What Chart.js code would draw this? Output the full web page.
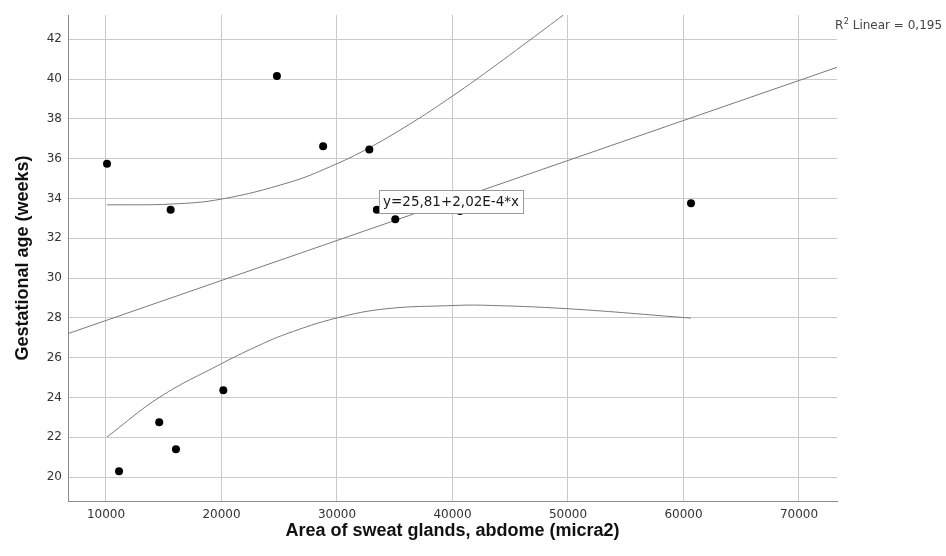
<!DOCTYPE html>
<html>
<head>
<meta charset="utf-8">
<script src="https://cdn.jsdelivr.net/npm/chart.js@4"></script>
<style>
  html, body { margin: 0; padding: 0; background: #fff; }
  canvas { display: block; }
</style>
</head>
<body>
<canvas id="chart" width="946" height="556"></canvas>
<script>
// Observed cases: sweat gland area vs gestational age
const areaValues = [10090, 15600, 24800, 28800, 32800, 33450, 35050, 40650, 60650, 20160, 14610, 16060, 11130];
const ageValues = [35.74, 33.43, 40.16, 36.62, 36.46, 33.43, 32.96, 33.37, 33.76, 24.37, 22.76, 21.40, 20.30];

// Linear fit, read where it meets the plot edges
const fitX = [6713, 73290];
const fitY = [27.21, 40.59];

// 95% CI band
const upperX = [10090, 15600, 20000, 25930, 29420, 32800, 36890, 40000, 42100, 46700, 49600];
const upperY = [33.68, 33.72, 33.97, 34.82, 35.6, 36.55, 37.95, 39.15, 40.0, 41.96, 43.22];
const lowerX = [10090, 14680, 20000, 22800, 25630, 30000, 34270, 40000, 42500, 50000, 60650];
const lowerY = [22.02, 24.03, 25.7, 26.5, 27.2, 28.0, 28.46, 28.62, 28.64, 28.46, 27.99];

const xTicks = [10000, 20000, 30000, 40000, 50000, 60000, 70000];
const yTicks = [20, 22, 24, 26, 28, 30, 32, 34, 36, 38, 40, 42];
const xRange = [6713, 73290];
const yRange = [18.8, 43.22];

const equationText = "y=25,81+2,02E-4*x";
const equationAt = [33620, 34.45]; // top-left corner of the box, data units
const r2Text = "R";
const r2Sup = "2";
const r2Rest = " Linear = 0,195";

function toXY(xs, ys) {
  return xs.map((x, i) => ({ x, y: ys[i] }));
}

const lineStyle = {
  showLine: true,
  pointRadius: 0,
  pointHoverRadius: 0,
  borderColor: "#7a7a7a",
  borderWidth: 1,
  fill: false,
};

// Labels: equation box and R² note
const labelsPlugin = {
  id: "labels",
  afterDatasetsDraw(chart) {
    const { ctx, scales, chartArea } = chart;
    ctx.save();
    ctx.font = "13.5px 'DejaVu Sans'";
    const w = Math.round(ctx.measureText(equationText).width + 8);
    const left = Math.round(scales.x.getPixelForValue(equationAt[0]));
    const top = Math.round(scales.y.getPixelForValue(equationAt[1]));
    ctx.fillStyle = "#fff";
    ctx.fillRect(left, top, w, 23);
    ctx.strokeStyle = "#9a9a9a";
    ctx.lineWidth = 1;
    ctx.strokeRect(left + 0.5, top + 0.5, w, 23);
    ctx.fillStyle = "#1a1a1a";
    ctx.textBaseline = "middle";
    ctx.fillText(equationText, left + 4, top + 12);

    // R² Linear
    let x = chartArea.right - 2;
    const base = 29;
    ctx.textBaseline = "alphabetic";
    ctx.fillStyle = "#444";
    ctx.font = "12px 'DejaVu Sans'";
    ctx.fillText(r2Text, x, base);
    x += ctx.measureText(r2Text).width + 0.5;
    ctx.font = "8px 'DejaVu Sans'";
    ctx.fillText(r2Sup, x, base - 5);
    x += ctx.measureText(r2Sup).width;
    ctx.font = "12px 'DejaVu Sans'";
    ctx.fillText(r2Rest, x, base);
    ctx.restore();
  },
};

const tickFont = { family: "DejaVu Sans", size: 12 };
const titleFont = { family: "Liberation Sans", size: 18, weight: "bold" };

new Chart(document.getElementById("chart"), {
  type: "scatter",
  data: {
    datasets: [
      {
        label: "cases",
        data: toXY(areaValues, ageValues),
        backgroundColor: "#000",
        borderWidth: 0,
        pointRadius: 4,
        pointHoverRadius: 4,
      },
      { label: "fit", data: toXY(fitX, fitY), ...lineStyle },
      { label: "upper", data: toXY(upperX, upperY), ...lineStyle, tension: 0.4 },
      { label: "lower", data: toXY(lowerX, lowerY), ...lineStyle, tension: 0.4 },
    ],
  },
  options: {
    responsive: false,
    animation: false,
    devicePixelRatio: 1,
    layout: { padding: { top: 15, right: 109, left: 0, bottom: 0 } },
    plugins: {
      legend: { display: false },
      tooltip: { enabled: false },
    },
    scales: {
      x: {
        type: "linear",
        min: xRange[0],
        max: xRange[1],
        afterBuildTicks: (s) => { s.ticks = xTicks.map((v) => ({ value: v })); },
        afterFit: (s) => { s.height = 55; },
        ticks: { font: tickFont, color: "#333", padding: 7, callback: (v) => String(v) },
        grid: { color: "#cacaca", drawTicks: false },
        border: { color: "#8a8a8a" },
        title: {
          display: true,
          text: "Area of sweat glands, abdome (micra2)",
          font: titleFont,
          color: "#111",
          padding: { top: 0, bottom: 14 },
        },
      },
      y: {
        type: "linear",
        min: yRange[0],
        max: yRange[1],
        afterBuildTicks: (s) => { s.ticks = yTicks.map((v) => ({ value: v })); },
        afterFit: (s) => { s.width = 68; },
        ticks: { font: tickFont, color: "#333", padding: 6, callback: (v) => String(v) },
        grid: { color: "#cacaca", drawTicks: false },
        border: { color: "#8a8a8a" },
        title: {
          display: true,
          text: "Gestational age (weeks)",
          font: titleFont,
          color: "#111",
          padding: { top: 12, bottom: 0 },
        },
      },
    },
  },
  plugins: [labelsPlugin],
});
</script>
</body>
</html>
